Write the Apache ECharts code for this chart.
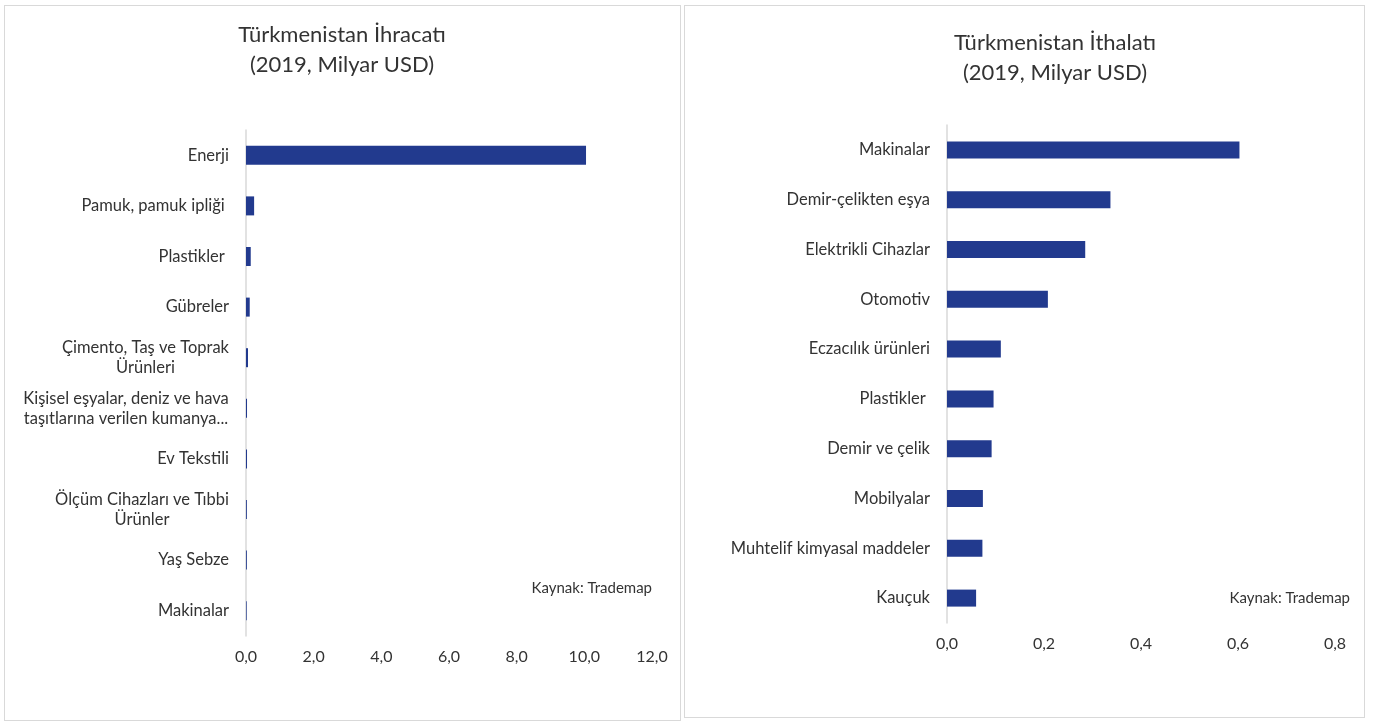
<!DOCTYPE html>
<html><head><meta charset="utf-8">
<script src="https://cdn.jsdelivr.net/npm/echarts@6/dist/echarts.min.js"></script>
<style>
html,body{margin:0;padding:0;background:#fff;width:1378px;height:724px;overflow:hidden;}
.panel{position:absolute;border:1px solid #d9d9d9;box-sizing:border-box;background:#fff;}
#p1{left:4px;top:5px;width:677px;height:716px;}
#p2{left:684px;top:5px;width:681px;height:713px;}
</style></head>
<body>
<div id="p1" class="panel"></div>
<div id="p2" class="panel"></div>
<script>
// ---- data ----
const exportTitle = "Türkmenistan İhracatı\n(2019, Milyar USD)";
const exportCategories = ["Enerji","Pamuk, pamuk ipliği ","Plastikler ","Gübreler","Çimento, Taş ve Toprak\nÜrünleri","Kişisel eşyalar, deniz ve hava\ntaşıtlarına verilen kumanya...","Ev Tekstili","Ölçüm Cihazları ve Tıbbi\nÜrünler","Yaş Sebze","Makinalar"];
const exportValues = [10.05, 0.24, 0.14, 0.11, 0.06, 0.03, 0.03, 0.025, 0.025, 0.02];
const exportTicks = {min:0, max:12, interval:2};

const importTitle = "Türkmenistan İthalatı\n(2019, Milyar USD)";
const importCategories = ["Makinalar","Demir-çelikten eşya","Elektrikli Cihazlar","Otomotiv","Eczacılık ürünleri","Plastikler ","Demir ve çelik","Mobilyalar","Muhtelif kimyasal maddeler","Kauçuk"];
const importValues = [0.603, 0.337, 0.285, 0.208, 0.111, 0.096, 0.092, 0.074, 0.073, 0.060];
const importTicks = {min:0, max:0.8, interval:0.2};

const sourceText = "Kaynak: Trademap";

// ---- helpers ----
const FONT = "Lato, 'Noto Sans', sans-serif";
const TXT = "#333333";
const BAR = "#223a8e";
const LBL = 16.5;
const ctx = document.createElement('canvas').getContext('2d');
ctx.font = LBL + "px Lato";
function buildLabels(cats){
  const rich = {};
  const map = {};
  cats.forEach((c,i)=>{
    if(c.indexOf('\n')>=0){
      const lines = c.split('\n');
      const w = Math.ceil(Math.max(...lines.map(l=>ctx.measureText(l).width)));
      rich['c'+i] = {width:w, align:'center', fontSize:LBL, fontFamily:FONT, color:TXT, lineHeight:20};
      map[c] = lines.map(l=>'{c'+i+'|'+l+'}').join('\n');
    }
  });
  return {rich, map};
}
function makeOption(title, cats, vals, ticks, grid, barW, titlePos, srcPos){
  const lb = buildLabels(cats);
  return {
    animation:false,
    title:{text:title, left:titlePos.x, top:titlePos.y, textAlign:'center',
      textStyle:{fontFamily:FONT, fontSize:22, fontWeight:'normal', color:TXT, lineHeight:30}},
    grid:grid,
    xAxis:{type:'value', min:ticks.min, max:ticks.max, interval:ticks.interval,
      axisLine:{show:false}, axisTick:{show:false}, splitLine:{show:false},
      axisLabel:{fontFamily:FONT, fontSize:16, color:TXT, margin:13,
        formatter:v=>v.toFixed(1).replace('.',',')}},
    yAxis:{type:'category', data:cats, inverse:true,
      axisLine:{show:true, lineStyle:{color:'#d9d9d9', width:1.5}}, axisTick:{show:false},
      axisLabel:{fontFamily:FONT, fontSize:LBL, color:TXT, margin:17, lineHeight:20,
        formatter:v=>lb.map[v]||v, rich:lb.rich}},
    series:[{type:'bar', data:vals, barWidth:barW, itemStyle:{color:BAR}}],
    graphic:[{type:'text', right:srcPos.right, top:srcPos.top,
      style:{text:sourceText, fontFamily:FONT, fontSize:15, fill:TXT}}]
  };
}
const c1 = echarts.init(document.getElementById('p1'));
c1.setOption(makeOption(exportTitle, exportCategories, exportValues, exportTicks,
  {left:241, top:124, width:406, height:506}, 19, {x:332, y:9}, {right:28, top:575}));
const c2 = echarts.init(document.getElementById('p2'));
c2.setOption(makeOption(importTitle, importCategories, importValues, importTicks,
  {left:262, top:119, width:388, height:498}, 17, {x:365, y:17}, {right:14, top:585}));
</script>
</body></html>
